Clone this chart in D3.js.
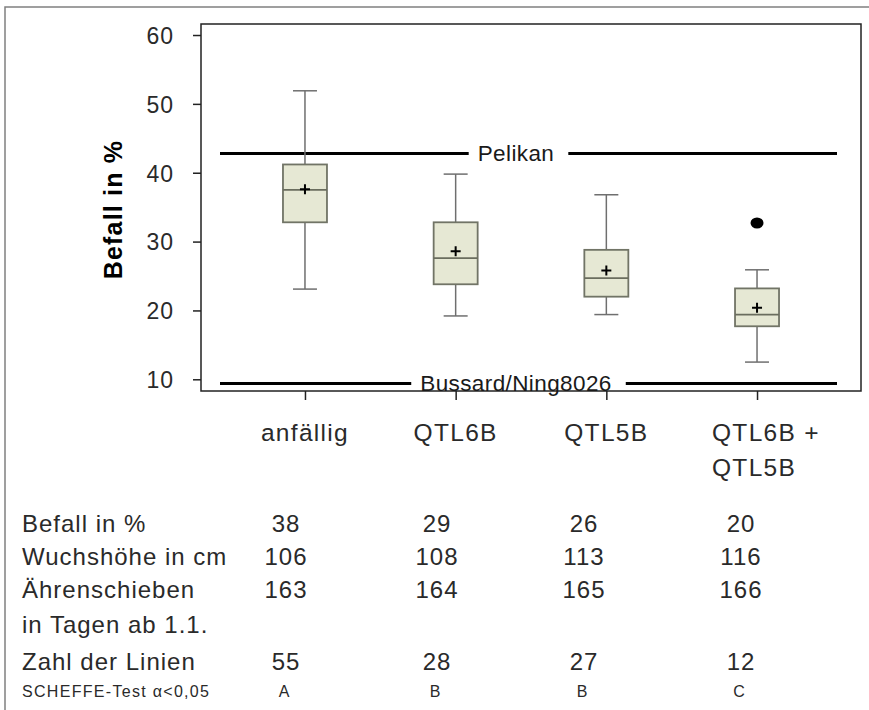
<!DOCTYPE html>
<html>
<head>
<meta charset="utf-8">
<script src="https://cdn.jsdelivr.net/npm/d3@7"></script>
<style>
  body { margin: 0; background: #fff; }
  svg text { font-family: "Liberation Sans", Arial, sans-serif; fill: #1a1a1a; }
</style>
</head>
<body>
<script>
// Daten
var categories = ['anfällig', 'QTL6B', 'QTL5B', 'QTL6B + QTL5B'];
var categoryLines = [['anfällig'], ['QTL6B'], ['QTL5B'], ['QTL6B +', 'QTL5B']];
var whiskerLow  = [23.1, 19.2, 19.4, 12.5];
var q1          = [32.8, 23.8, 22.0, 17.7];
var median      = [37.5, 27.6, 24.7, 19.4];
var q3          = [41.2, 32.8, 28.8, 23.2];
var whiskerHigh = [51.9, 39.8, 36.8, 25.9];
var means       = [37.6, 28.6, 25.8, 20.4];
var outliers    = [[], [], [], [32.7]];
var refLabels   = ['Pelikan', 'Bussard/Ning8026'];
var refValues   = [42.8, 9.4];
var yTicks      = [10, 20, 30, 40, 50, 60];

// Tabelle
var rowLabels  = ['Befall in %', 'Wuchshöhe in cm', 'Ährenschieben', 'in Tagen ab 1.1.', 'Zahl der Linien'];
var befall     = [38, 29, 26, 20];
var wuchshoehe = [106, 108, 113, 116];
var aehren     = [163, 164, 165, 166];
var zahlLinien = [55, 28, 27, 12];
var scheffe    = ['A', 'B', 'B', 'C'];

var W = 869, H = 710;
var plot = { left: 201, right: 861, top: 24, bottom: 391 };

var svg = d3.select('body').append('svg')
  .attr('width', W)
  .attr('height', H);

// Rahmen (nur oben und links sichtbar)
svg.append('path')
  .attr('d', 'M5,' + H + 'V7H' + W)
  .attr('fill', 'none')
  .attr('stroke', '#808080')
  .attr('stroke-width', 1.5);

var x = d3.scalePoint()
  .domain(categories)
  .range([plot.left, plot.right])
  .padding(0.69);

var y = d3.scaleLinear()
  .domain([8.3, 61.6])
  .range([plot.bottom, plot.top]);

// Achsen
var yAxis = svg.append('g')
  .attr('transform', 'translate(' + plot.left + ',0)')
  .call(d3.axisLeft(y).tickValues(yTicks).tickSize(8).tickPadding(19));
yAxis.select('.domain').remove();
yAxis.selectAll('line').attr('stroke', '#222').attr('stroke-width', 1.5);
yAxis.selectAll('text')
  .style('font-size', '23px')
  .style('letter-spacing', '1px')
  .style('fill', '#2a2a2a')
  .attr('dy', '0.36em');

var xAxis = svg.append('g')
  .attr('transform', 'translate(0,' + plot.bottom + ')')
  .call(d3.axisBottom(x).tickSize(9).tickFormat(''));
xAxis.select('.domain').remove();
xAxis.selectAll('line').attr('stroke', '#222').attr('stroke-width', 1.5);

svg.append('rect')
  .attr('x', plot.left)
  .attr('y', plot.top)
  .attr('width', plot.right - plot.left)
  .attr('height', plot.bottom - plot.top)
  .attr('fill', 'none')
  .attr('stroke', '#222')
  .attr('stroke-width', 1.5);

// Kategorien
svg.append('g').selectAll('text')
  .data(categories)
  .enter().append('text')
    .attr('x', function(d){ return x(d); })
    .attr('y', 441)
    .style('font-size', '24.5px')
    .style('letter-spacing', '1.3px')
    .style('fill', '#2a2a2a')
    .attr('text-anchor', function(d, i){ return categoryLines[i].length > 1 ? 'start' : 'middle'; })
    .each(function(d, i){
      var t = d3.select(this);
      var lines = categoryLines[i];
      if (lines.length > 1) t.attr('x', x(d) - 45);
      lines.forEach(function(l, j){
        t.append('tspan')
          .attr('x', t.attr('x'))
          .attr('dy', j === 0 ? 0 : 35)
          .text(l);
      });
    });

// y-Achsentitel
svg.append('text')
  .attr('transform', 'translate(122,' + ((plot.top + plot.bottom) / 2 + 2) + ') rotate(-90)')
  .attr('text-anchor', 'middle')
  .style('font-size', '25px')
  .style('font-weight', 'bold')
  .style('letter-spacing', '1.2px')
  .style('fill', '#000')
  .text('Befall in %');

// Referenzlinien mit Beschriftung
var lineStart = plot.left + 19, lineEnd = plot.right - 24, labelCenter = 516;
refLabels.forEach(function(lab, i){
  var g = svg.append('g');
  var t = g.append('text')
    .attr('x', labelCenter)
    .attr('y', y(refValues[i]) + 8)
    .attr('text-anchor', 'middle')
    .style('font-size', '22.5px')
    .style('letter-spacing', '0.4px')
    .text(lab);
  var w = t.node().getComputedTextLength();
  [[lineStart, labelCenter - w / 2 - 9], [labelCenter + w / 2 + 14, lineEnd]].forEach(function(seg){
    g.insert('line', 'text')
      .attr('x1', seg[0]).attr('x2', seg[1])
      .attr('y1', y(refValues[i])).attr('y2', y(refValues[i]))
      .attr('stroke', '#000')
      .attr('stroke-width', 3);
  });
});

// Boxplots
var boxW = 44, capW = 24;
var boxes = svg.append('g').selectAll('g.box')
  .data(categories)
  .enter().append('g')
    .attr('class', 'box');

boxes.append('line')
  .attr('x1', function(d){ return x(d); })
  .attr('x2', function(d){ return x(d); })
  .attr('y1', function(d, i){ return y(whiskerLow[i]); })
  .attr('y2', function(d, i){ return y(whiskerHigh[i]); })
  .attr('stroke', '#6f6f6f')
  .attr('stroke-width', 1.5);

[whiskerLow, whiskerHigh].forEach(function(arr){
  boxes.append('line')
    .attr('x1', function(d){ return x(d) - capW / 2; })
    .attr('x2', function(d){ return x(d) + capW / 2; })
    .attr('y1', function(d, i){ return y(arr[i]); })
    .attr('y2', function(d, i){ return y(arr[i]); })
    .attr('stroke', '#6f6f6f')
    .attr('stroke-width', 1.5);
});

boxes.append('rect')
  .attr('x', function(d){ return x(d) - boxW / 2; })
  .attr('y', function(d, i){ return y(q3[i]); })
  .attr('width', boxW)
  .attr('height', function(d, i){ return y(q1[i]) - y(q3[i]); })
  .attr('fill', '#e6e8d4')
  .attr('stroke', '#717466')
  .attr('stroke-width', 1.8);

boxes.append('line')
  .attr('x1', function(d){ return x(d) - boxW / 2; })
  .attr('x2', function(d){ return x(d) + boxW / 2; })
  .attr('y1', function(d, i){ return y(median[i]); })
  .attr('y2', function(d, i){ return y(median[i]); })
  .attr('stroke', '#6a6d5e')
  .attr('stroke-width', 1.8);

boxes.append('path')
  .attr('d', function(d, i){
    var cx = x(d), cy = y(means[i]);
    return 'M' + (cx - 5) + ',' + cy + 'H' + (cx + 5) + 'M' + cx + ',' + (cy - 5) + 'V' + (cy + 5);
  })
  .attr('stroke', '#000')
  .attr('stroke-width', 2);

boxes.each(function(d, i){
  d3.select(this).selectAll('ellipse')
    .data(outliers[i])
    .enter().append('ellipse')
      .attr('cx', x(d))
      .attr('cy', function(v){ return y(v); })
      .attr('rx', 6.5)
      .attr('ry', 5.5)
      .attr('fill', '#000');
});

// Tabelle unten
var col = d3.scaleOrdinal()
  .domain(categories)
  .range([286, 437, 584, 741]);

var rowY = [532, 565, 598, 633, 670];
var rowValues = [befall, wuchshoehe, aehren, null, zahlLinien];

var table = svg.append('g');
rowLabels.forEach(function(lab, r){
  table.append('text')
    .attr('x', 22)
    .attr('y', rowY[r])
    .style('font-size', '24px')
    .style('letter-spacing', '1px')
    .style('fill', '#2a2a2a')
    .text(lab);
  if (!rowValues[r]) return;
  table.selectAll('text.v' + r)
    .data(rowValues[r])
    .enter().append('text')
      .attr('class', 'v' + r)
      .attr('x', function(d, i){ return col(categories[i]); })
      .attr('y', rowY[r])
      .attr('text-anchor', 'middle')
      .style('font-size', '24px')
      .style('letter-spacing', '1px')
      .style('fill', '#2a2a2a')
      .text(function(d){ return d; });
});

table.append('text')
  .attr('x', 22)
  .attr('y', 697)
  .style('font-size', '16px')
  .style('letter-spacing', '1.3px')
  .style('fill', '#2a2a2a')
  .text('SCHEFFE-Test α<0,05');

table.selectAll('text.sch')
  .data(scheffe)
  .enter().append('text')
    .attr('class', 'sch')
    .attr('x', function(d, i){ return col(categories[i]) - 2; })
    .attr('y', 697)
    .attr('text-anchor', 'middle')
    .style('font-size', '16px')
    .style('fill', '#2a2a2a')
    .text(function(d){ return d; });
</script>
</body>
</html>
